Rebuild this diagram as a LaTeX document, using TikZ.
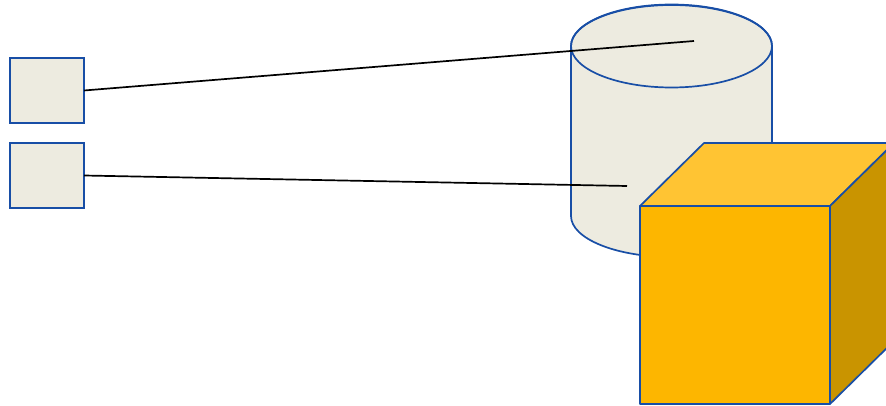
\documentclass[tikz,border=0pt]{standalone}
\usepackage{tikz}
\definecolor{boxfill}{RGB}{237,235,224}
\definecolor{edgeblue}{RGB}{24,78,166}
\definecolor{cubefront}{RGB}{253,182,0}
\definecolor{cubetop}{RGB}{255,196,51}
\definecolor{cubeside}{RGB}{201,148,0}
\tikzset{
  smallbox/.style={draw=edgeblue,fill=boxfill,line width=1.7pt,minimum width=74pt,minimum height=65pt,inner sep=0pt,outer sep=0pt},
  solid part/.style={draw=edgeblue,line width=1.7pt,line join=round},
  link/.style={draw=black,line width=1.7pt}
}
\begin{document}
\begin{tikzpicture}[x=1pt,y=-1pt]
\useasboundingbox (0,0) rectangle (886,406);
\clip (0,0) rectangle (886,406);
% two boxes on the left
\node[smallbox] (boxA) at (47,90.5) {};
\node[smallbox] (boxB) at (47,175.5) {};
% cylinder
\draw[solid part,fill=boxfill] (571,46) -- (571,216) arc[start angle=180,end angle=360,x radius=100.5,y radius=-41] -- (772,46) arc[start angle=0,end angle=180,x radius=100.5,y radius=-41] -- cycle;
\draw[solid part] (671.5,46) ellipse[x radius=100.5,y radius=41.5];
\coordinate (topEnd) at (694,41);
\coordinate (bodyEnd) at (627,186);
\draw[link] (boxA.east) -- (topEnd);
\draw[link] (boxB.east) -- (bodyEnd);
% cube
\draw[solid part,fill=cubetop] (640,206) -- (704,143) -- (894,143) -- (830,206) -- cycle;
\draw[solid part,fill=cubeside] (830,206) -- (894,143) -- (894,341) -- (830,404) -- cycle;
\draw[solid part,fill=cubefront] (640,206) rectangle (830,404);
\end{tikzpicture}
\end{document}
